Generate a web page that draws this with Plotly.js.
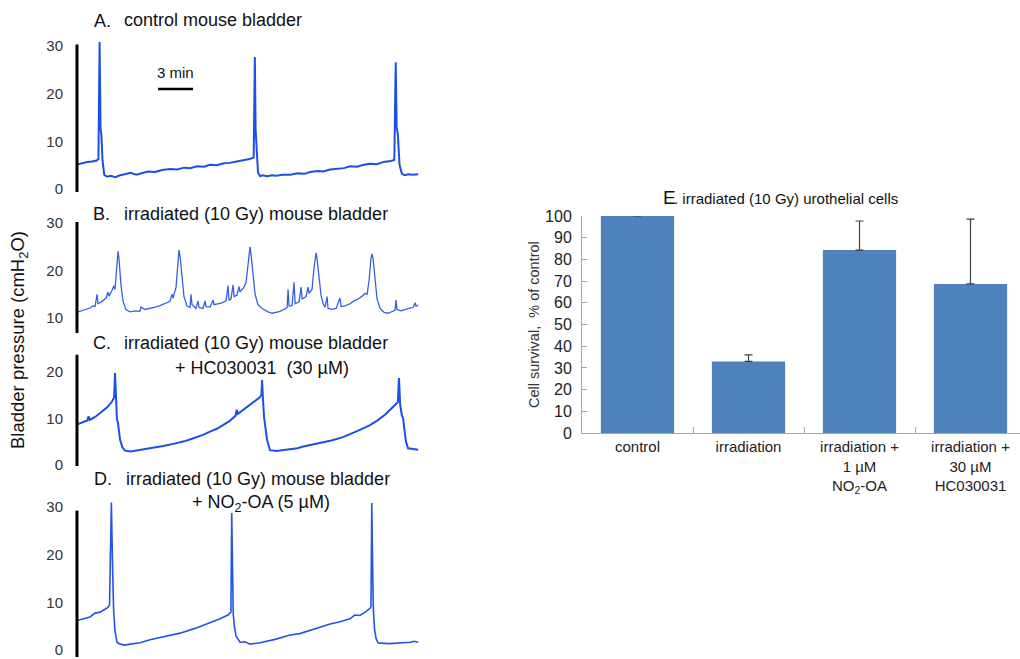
<!DOCTYPE html>
<html><head><meta charset="utf-8">
<script src="https://cdn.plot.ly/plotly-3.0.1.min.js"></script>
<style>html,body{margin:0;padding:0;background:#fff}#chart{width:1020px;height:659px}</style>
</head><body><div id="chart"></div>
<script>
// ---- Data: bladder pressure traces (time in min, pressure in cmH2O) ----
const tA = [0,0.4,0.8,1.2,1.6,1.75,1.85,1.93,2.0,2.1,2.25,2.5,2.8,3.2,3.6,4.0,4.5,5.0,5.5,6.0,6.6,7.2,7.9,8.5,9.1,9.6,10.2,10.8,11.3,11.9,12.5,13.0,13.6,14.2,14.7,15.05,15.15,15.22,15.3,15.42,15.6,15.8,16.2,16.6,17.0,17.5,18.2,18.8,19.4,19.9,20.5,21.0,21.6,22.2,22.8,23.3,23.9,24.5,25.0,25.6,26.2,26.8,27.1,27.22,27.3,27.4,27.55,27.75,28.0,28.3,28.7,29.14];
const pA = [5.2,5.5,5.7,5.8,6.0,6.3,30.8,12.8,11.5,6.0,3.0,2.6,2.8,2.5,2.9,3.1,3.4,3.0,3.4,3.7,3.6,4.0,4.2,4.1,4.5,4.4,4.8,4.7,5.1,5.0,5.4,5.5,5.8,6.0,6.3,6.6,27.7,12.4,8.0,3.5,2.7,2.9,2.7,2.9,2.8,3.0,3.0,3.3,3.2,3.6,3.8,3.7,4.1,4.3,4.4,4.8,4.7,5.1,5.3,5.2,5.7,5.9,6.1,26.6,13.0,11.5,5.0,3.2,2.9,3.1,3.0,3.1];

const tB = [0,0.34,0.69,1.03,1.29,1.46,1.63,1.71,2.06,2.4,2.57,2.66,2.91,3.08,3.17,3.34,3.43,3.51,3.68,3.86,4.11,4.46,4.88,5.31,5.4,5.74,6.17,6.6,7.03,7.46,7.88,8.05,8.14,8.4,8.57,8.65,8.74,8.91,9.08,9.34,9.6,9.68,9.77,10.11,10.28,10.37,10.71,10.88,10.97,11.31,11.57,11.65,12.0,12.34,12.68,12.85,12.94,13.11,13.28,13.37,13.62,13.8,13.88,14.22,14.4,14.57,14.74,14.82,15.0,15.17,15.42,15.77,16.28,16.62,16.97,17.31,17.65,17.91,18.0,18.08,18.34,18.51,18.6,18.94,19.11,19.2,19.54,19.71,19.8,20.05,20.22,20.4,20.48,20.65,20.82,21.0,21.17,21.34,21.42,21.77,22.11,22.45,22.54,22.96,23.3,23.65,23.99,24.34,24.6,24.77,24.94,25.1,25.19,25.28,25.45,25.62,25.88,26.22,26.56,26.9,27.16,27.25,27.33,27.68,28.02,28.36,28.7,28.88,28.96,29.14];
const pB = [11.3,11.6,11.9,12.1,12.6,12.4,15.0,13.0,13.5,14.2,15.5,14.6,15.8,16.8,16.0,21,24.1,22.5,17,13.5,11.8,11.3,11.5,11.4,12.3,11.8,12.0,12.3,12.6,13.0,13.5,15.0,14.2,16.5,22,24.3,23,18.5,14.5,12.5,12.2,15.0,12.8,12.0,13.6,12.2,12.0,13.6,12.4,12.3,13.8,12.8,13.0,13.2,13.6,16.8,13.8,14.0,17.0,14.5,14.8,16.6,15.5,16.5,17.5,21.5,25.0,23.5,18.5,15.0,12.8,12.0,11.3,11.0,11.2,11.4,11.8,12.2,16.0,12.5,12.6,17.5,13.0,13.4,16.5,14.0,14.5,16.5,15.2,16.0,20.5,23.7,22.5,18,14.8,13.0,12.3,14.5,12.0,11.8,12.0,14.2,12.4,12.6,13.0,13.6,14.0,14.6,15.2,15.0,18,22.5,23.5,22.5,17.5,14,12.0,11.2,11.0,11.3,11.6,13.8,11.8,11.5,11.8,12.0,12.2,13.2,12.5,12.8];

const tC = [0,0.4,0.8,0.9,1.0,1.5,2.0,2.5,2.9,3.1,3.17,3.22,3.28,3.34,3.42,3.6,3.8,4.03,4.5,5.0,5.57,6.1,6.7,7.3,7.9,8.48,9.1,9.7,10.2,10.71,11.3,11.9,12.42,13.0,13.5,13.6,13.7,14.2,14.74,15.2,15.6,15.72,15.77,15.85,15.94,16.2,16.45,17.0,17.57,18.2,18.8,19.3,19.88,20.5,21.1,21.7,22.7,23.4,24.2,25.02,25.6,26.3,26.99,27.4,27.5,27.6,27.75,27.85,27.95,28.1,28.28,28.7,29.14];
const pC = [8.8,9.2,9.6,10.5,9.7,10.4,11.3,12.4,13.6,14.5,19.8,15.2,14.0,9.7,9.2,5.5,3.8,3.1,2.9,3.1,3.3,3.5,3.8,4.1,4.4,4.7,5.1,5.6,6.0,6.5,7.2,7.8,8.6,9.5,10.6,11.9,11.0,11.9,12.9,13.8,14.6,15.2,18.3,14.0,10.3,5.4,3.2,3.0,3.2,3.4,3.6,4.0,4.3,4.6,5.0,5.3,6.0,6.7,7.6,8.6,9.5,10.8,12.5,13.5,18.7,13.0,10.6,10.1,8.0,5.0,3.6,3.5,3.3];

const tD = [0,0.6,1.03,1.46,1.89,2.31,2.57,2.7,2.8,2.86,2.95,3.05,3.17,3.34,3.6,4.03,4.46,5.31,6.17,7.46,8.74,10.03,11.31,12.17,12.85,13.1,13.17,13.22,13.3,13.4,13.54,13.88,14.3,14.74,15.6,16.88,18.17,19.0,19.9,20.7,21.6,22.45,23.3,23.7,24.16,24.6,25.02,25.1,25.17,25.22,25.3,25.4,25.53,25.7,25.88,26.7,27.6,28.45,28.8,29.14];
const pD = [7.3,7.8,8.0,8.8,9.0,9.6,10.0,10.5,25,32.0,20,9.5,5.0,2.7,2.3,2.1,2.3,2.6,3.2,3.9,4.6,5.6,6.7,7.6,8.4,9.0,29.8,18,8.5,6.0,4.0,2.7,2.8,2.3,2.6,3.3,4.2,4.5,5.2,5.7,6.5,7.0,7.6,8.4,8.3,9.0,9.8,10.2,31.9,22,10,5.5,3.5,2.6,2.5,2.4,2.5,2.7,2.9,2.7];

const ticksA = [0,10,20,30];
const ticksB = [10,20,30];
const ticksC = [0,10,20];
const ticksD = [0,10,20,30];

// ---- Data: cell survival bar chart ----
const categories = ['control','irradiation','irradiation +<br>1 µM<br>NO<sub>2</sub>-OA','irradiation +<br>30 µM<br>HC030031'];
const survival = [100, 33, 84.3, 68.7];
const survivalErr = [null, 3, 13.4, 29.9];

// ---- Layout helpers ----
const W = 1020, H = 659;
const px = x => x / W;
const py = y => 1 - y / H;
const FONT = 'Liberation Sans, Arial, sans-serif';

const traces = [
  {x:tA, y:pA, xaxis:'x', yaxis:'y', mode:'lines', line:{color:'#1c4fe6', width:2}, hoverinfo:'skip'},
  {x:tB, y:pB, xaxis:'x2', yaxis:'y2', mode:'lines', line:{color:'#3560e4', width:1.3}, hoverinfo:'skip'},
  {x:tC, y:pC, xaxis:'x3', yaxis:'y3', mode:'lines', line:{color:'#1c4fe6', width:2}, hoverinfo:'skip'},
  {x:tD, y:pD, xaxis:'x4', yaxis:'y4', mode:'lines', line:{color:'#2454e6', width:1.6}, hoverinfo:'skip'},
  {type:'bar', x:categories, y:survival, xaxis:'x5', yaxis:'y5', width:0.66,
   marker:{color:'#4f81bd'}, hoverinfo:'skip',
   error_y:{type:'data', array:survivalErr, arrayminus:[0,0,0,0], symmetric:false, color:'#404040', thickness:1.2, width:4}}
];

function traceX(anchor){
  return {domain:[px(78), px(420)], range:[0, 29.3], visible:false, anchor:anchor, fixedrange:true};
}
function traceY(anchor, dom, rng, tv, shift){
  return {domain:dom, range:rng, anchor:anchor, showgrid:false, zeroline:false, showline:false,
    tickvals:tv, ticks:'', ticklabelstandoff:14, ticklabelshift:shift||0, ticklabeloverflow:'allow',
    tickfont:{family:FONT, size:15, color:'#333'}, fixedrange:true};
}

const layout = {
  width:W, height:H, margin:{l:0,r:0,t:0,b:0}, showlegend:false,
  paper_bgcolor:'#fff', plot_bgcolor:'rgba(0,0,0,0)',
  font:{family:FONT, color:'#222'},
  xaxis: traceX('y'),
  xaxis2: traceX('y2'),
  xaxis3: traceX('y3'),
  xaxis4: traceX('y4'),
  yaxis: traceY('x', [py(192), py(39.7)], [-0.6, 31.3], ticksA),
  yaxis2: traceY('x2', [py(333.2), py(220.6)], [6.8, 30.5], ticksB),
  yaxis3: traceY('x3', [py(466), py(353.4)], [-0.2, 24], ticksC),
  yaxis4: traceY('x4', [py(657), py(501)], [-0.4, 32.3], ticksD, -5),
  xaxis5: {domain:[px(582), 1], range:[-0.5, 3.446], type:'category', anchor:'y5',
    showline:true, linecolor:'#a6a6a6', linewidth:1, ticks:'inside', tickson:'boundaries',
    ticklen:6, tickcolor:'#a6a6a6', showgrid:false, tickfont:{family:FONT, size:15, color:'#222'}, fixedrange:true},
  yaxis5: {domain:[py(433), py(216)], range:[0, 100], dtick:10, anchor:'x5',
    showline:true, linecolor:'#a6a6a6', linewidth:1, ticks:'inside', ticklen:5, tickcolor:'#a6a6a6',
    showgrid:false, zeroline:false, ticklabelstandoff:6, tickfont:{family:FONT, size:16, color:'#222'}, fixedrange:true},
  shapes: [
    {type:'line', xref:'x domain', yref:'y', x0:-0.003, x1:-0.003, y0:-0.6, y1:30.3, line:{color:'#000', width:3}},
    {type:'line', xref:'x2 domain', yref:'y2', x0:-0.003, x1:-0.003, y0:6.8, y1:30.2, line:{color:'#000', width:3}},
    {type:'line', xref:'x3 domain', yref:'y3', x0:-0.003, x1:-0.003, y0:-0.2, y1:23.7, line:{color:'#000', width:3}},
    {type:'line', xref:'x4 domain', yref:'y4', x0:-0.003, x1:-0.003, y0:-0.4, y1:30.3, line:{color:'#000', width:3}},
    // 3 min scale bar
    {type:'line', xref:'x', yref:'y', x0:6.86, x1:9.86, y0:21.0, y1:21.0, line:{color:'#000', width:2.5}}
  ],
  annotations: []
};

function ann(text, x, y, size, xanchor, extra){
  return Object.assign({text:text, x:px(x), y:py(y), xref:'paper', yref:'paper', showarrow:false,
    xanchor:xanchor||'left', yanchor:'middle', font:{family:FONT, size:size, color:'#111'}}, extra||{});
}
layout.annotations.push(
  ann('A.', 92, 21, 18), ann('control mouse bladder', 122, 20, 18),
  ann('3 min', 175, 73, 15, 'center'),
  ann('B.', 91, 214, 18), ann('irradiated (10 Gy) mouse bladder', 122, 214, 18),
  ann('C.', 91, 343, 18), ann('irradiated (10 Gy) mouse bladder', 122, 343, 18),
  ann('+ HC030031  (30 µM)', 262, 368, 18, 'center'),
  ann('D.', 92, 479, 18), ann('irradiated (10 Gy) mouse bladder', 124, 479, 18),
  ann('+ NO<sub>2</sub>-OA (5 µM)', 261, 503, 18, 'center'),
  ann('Bladder pressure (cmH<sub>2</sub>O)', 19, 340, 18.5, 'center', {textangle:-90}),
  ann('E', 661, 197, 19), ann('. irradiated (10 Gy) urothelial cells', 672, 198, 15),
  ann('Cell survival,  % of control', 534, 325, 14.5, 'center', {textangle:-90, font:{family:FONT, size:14.5, color:'#333'}})
);

Plotly.newPlot('chart', traces, layout, {staticPlot:true, displayModeBar:false});
</script></body></html>
